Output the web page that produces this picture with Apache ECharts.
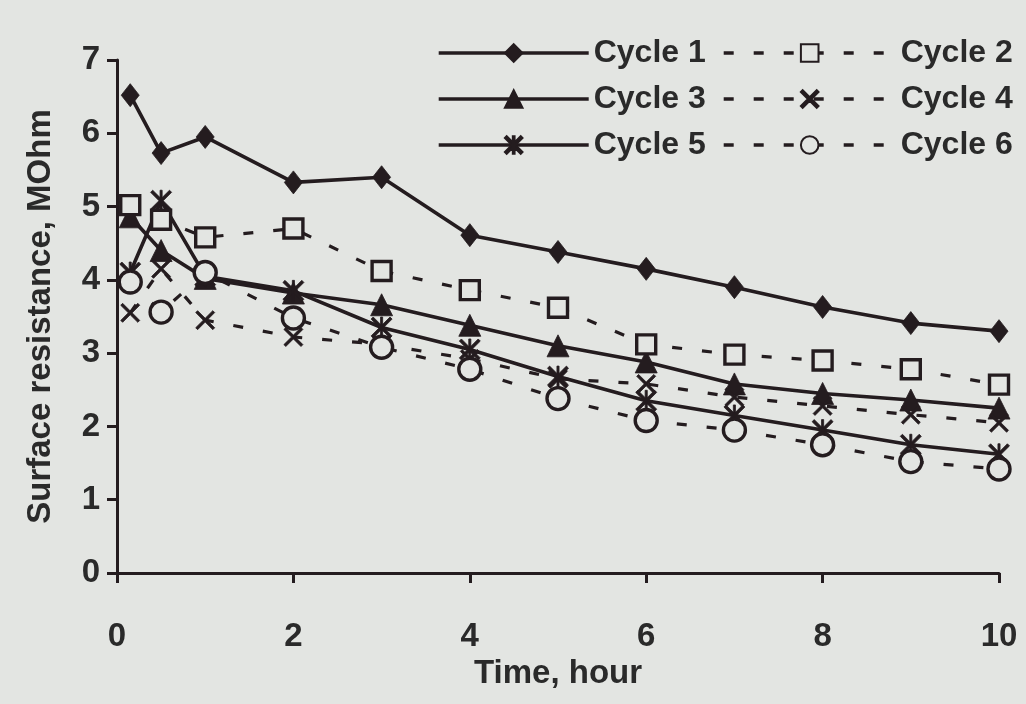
<!DOCTYPE html>
<html>
<head>
<meta charset="utf-8">
<script src="https://cdn.jsdelivr.net/npm/echarts@6/dist/echarts.min.js"></script>
<style>
  html, body { margin: 0; padding: 0; background: #e3e5e2; }
  #chart { width: 1026px; height: 704px; }
</style>
</head>
<body>
<div id="chart"></div>
<script>
// Sampling times, hours
const hours = [0.15, 0.5, 1, 2, 3, 4, 5, 6, 7, 8, 9, 10];

// Surface resistance per cycle, MOhm
const cycle1 = [6.52, 5.73, 5.95, 5.33, 5.40, 4.61, 4.38, 4.15, 3.90, 3.63, 3.41, 3.30];
const cycle2 = [5.02, 4.82, 4.58, 4.70, 4.12, 3.86, 3.62, 3.12, 2.98, 2.90, 2.78, 2.57];
const cycle3 = [4.86, 4.40, 4.02, 3.82, 3.66, 3.38, 3.10, 2.88, 2.58, 2.45, 2.36, 2.25];
const cycle4 = [3.55, 4.15, 3.45, 3.22, 3.12, 2.92, 2.65, 2.58, 2.40, 2.28, 2.16, 2.05];
const cycle5 = [4.10, 5.08, 4.05, 3.85, 3.35, 3.05, 2.68, 2.35, 2.15, 1.95, 1.75, 1.62];
const cycle6 = [3.97, 3.56, 4.10, 3.48, 3.08, 2.78, 2.38, 2.08, 1.95, 1.75, 1.52, 1.42];

const seriesNames = ['Cycle 1', 'Cycle 2', 'Cycle 3', 'Cycle 4', 'Cycle 5', 'Cycle 6'];
const yTicks = [0, 1, 2, 3, 4, 5, 6, 7];
const xTicks = [0, 2, 4, 6, 8, 10];

const INK = '#241c1f';
const PAPER = '#e3e5e2';
const TEXT = '#2a2a2a';
const FONT = '"Liberation Sans", Arial, sans-serif';

// Cross and asterisk markers as filled outlines
const X_PATH = 'path://M0,2L2,0L10,8L18,0L20,2L12,10L20,18L18,20L10,12L2,20L0,18L8,10Z';
const STAR_PATH = X_PATH + 'M9,0L11,0L11,20L9,20Z';

function pairs(values) {
  return hours.map((h, i) => [h, values[i]]);
}

function lineSeries(name, values, dashed, symbol, size, open) {
  return {
    name: name,
    type: 'line',
    data: pairs(values),
    symbol: symbol,
    symbolSize: size,
    showAllSymbol: true,
    z: open ? 3 : 2,
    lineStyle: {
      color: INK,
      width: dashed ? 3.2 : 3.6,
      type: dashed ? [10, 20] : 'solid'
    },
    itemStyle: open
      ? { color: PAPER, borderColor: INK, borderWidth: 3.4 }
      : { color: INK, borderColor: INK, borderWidth: 0.8 },
    emphasis: { disabled: true },
    animation: false
  };
}

const legendText = { color: TEXT, fontSize: 32, fontWeight: 'bold', fontFamily: FONT };
const legendLine = { width: 3.4 };

const option = {
  backgroundColor: PAPER,
  animation: false,
  grid: { left: 117, right: 27, top: 60, bottom: 131, containLabel: false },
  legend: [
    {
      data: [seriesNames[0], seriesNames[2], seriesNames[4]],
      orient: 'vertical',
      left: 437, top: 37,
      itemWidth: 150, itemHeight: 22, itemGap: 14,
      padding: 0,
      textStyle: legendText,
      lineStyle: legendLine,
      selectedMode: false
    },
    {
      data: [seriesNames[1], seriesNames[3], seriesNames[5]],
      orient: 'vertical',
      left: 722, top: 37,
      itemWidth: 172, itemHeight: 22, itemGap: 14,
      padding: 0,
      textStyle: legendText,
      lineStyle: legendLine,
      selectedMode: false
    }
  ],
  xAxis: {
    type: 'value',
    min: xTicks[0], max: xTicks[xTicks.length - 1], interval: 2,
    name: 'Time, hour',
    nameLocation: 'middle',
    nameGap: 80,
    nameTextStyle: { color: TEXT, fontSize: 33, fontWeight: 'bold', fontFamily: FONT },
    axisLine: { show: true, lineStyle: { color: INK, width: 3 } },
    axisTick: { show: true, inside: false, length: 10, lineStyle: { color: INK, width: 3 } },
    axisLabel: { color: TEXT, fontSize: 33, fontWeight: 'bold', fontFamily: FONT, margin: 47 },
    splitLine: { show: false }
  },
  yAxis: {
    type: 'value',
    min: yTicks[0], max: yTicks[yTicks.length - 1], interval: 1,
    name: 'Surface resistance, MOhm',
    nameLocation: 'middle',
    nameGap: 60,
    nameTextStyle: { color: TEXT, fontSize: 33, fontWeight: 'bold', fontFamily: FONT },
    axisLine: { show: true, lineStyle: { color: INK, width: 3 } },
    axisTick: { show: true, inside: false, length: 10, lineStyle: { color: INK, width: 3 } },
    axisLabel: { color: TEXT, fontSize: 33, fontWeight: 'bold', fontFamily: FONT, margin: 17 },
    splitLine: { show: false }
  },
  series: [
    lineSeries(seriesNames[0], cycle1, false, 'diamond', [18, 23], false),
    lineSeries(seriesNames[1], cycle2, true, 'rect', 19, true),
    lineSeries(seriesNames[2], cycle3, false, 'triangle', 22, false),
    lineSeries(seriesNames[3], cycle4, true, X_PATH, 19, false),
    lineSeries(seriesNames[4], cycle5, false, STAR_PATH, 21, false),
    lineSeries(seriesNames[5], cycle6, true, 'circle', 22, true)
  ]
};

const chart = echarts.init(document.getElementById('chart'), null, { renderer: 'canvas' });
chart.setOption(option);
</script>
</body>
</html>
